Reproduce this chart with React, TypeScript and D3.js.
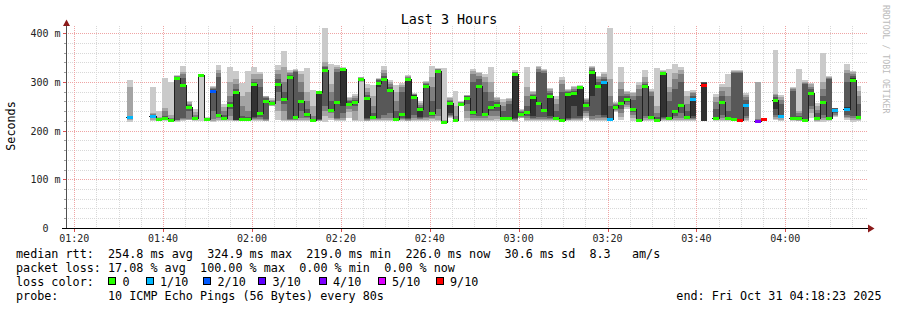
import React from "react";
import * as d3 from "d3";

// ---------- data ----------
const endTimeIso = "2025-10-31T04:18:23Z";
const spanSeconds = 10800;
const stepSeconds = 80;
const firstBarOffsetSeconds = 5;

// median rtt per 80 s step (ms); null = no data
const median: (number | null)[] = [
  null, null, null, null, null, null, null, null, null, null,
  228, null, null, null, 230, 223, 225, 221.5, 308, 293,
  247.5, 225, 314, 223, 281, 232, 225, 253, 280, 223.6,
  223, 295, 236.5, 261, 256, 295, 264, 309, 228, 260.5,
  234.5, 221.5, 278, 325, 242, 259, 325.5, 255, 259, 305,
  267, 227, 298, 305, 283, 223, 233, 306, 269, 244,
  290.6, 236, 323, 218, 256, 221, 255, 267, 237, 292,
  234, 249, 251.6, 225, 226, 316, 234, 237, 269, 257,
  242, 271, 225, 221.5, 275, 277.6, 289, 252, 321, 292,
  300, 223, 248, 257, 264.6, 244, 222, 290.6, 228, 222,
  317, 225, 240, 252, 228, 264, null, 292.6, null, 225,
  259, 225, 223, 222, 252, null, 220, 223.6, null, 262,
  230, null, 225, 225, 222, 276, 225, 259, 225, 243,
  null, 244, 303.6, 227, null,
];

// lost pings out of 10 per step
const lossCount: (number | null)[] = [
  null, null, null, null, null, null, null, null, null, null,
  1, null, null, null, 1, 0, 0, 0, 0, 0,
  0, 0, 0, 0, 2, 0, 0, 0, 0, 0,
  0, 0, 0, 0, 0, 0, 0, 0, 0, 0,
  0, 0, 0, 0, 0, 0, 0, 0, 0, 0,
  0, 0, 0, 0, 0, 0, 0, 0, 0, 0,
  0, 0, 0, 0, 0, 0, 0, 0, 0, 0,
  0, 0, 0, 0, 0, 0, 0, 0, 0, 0,
  0, 0, 0, 0, 0, 0, 0, 0, 0, 0,
  1, 1, 0, 0, 0, 0, 0, 0, 0, 0,
  0, 0, 0, 0, 0, 1, null, 9, null, 0,
  0, 0, 0, 9, 1, null, 4, 9, null, 0,
  1, null, 0, 0, 0, 0, 0, 0, 0, 1,
  null, 1, 0, 0, null,
];

// the 10 sorted ping times (ms) per step, for the smoke
const pings: (number[] | null)[] = [
  null, null, null, null, null, null, null, null, null, null,
  [218, 222, 224, 226, 228, 228, 229, 230, 290, 303],
  null, null, null,
  [219, 222, 226, 228, 229, 230, 231, 234, 236, 290],
  [219, 220, 221, 222, 223, 223, 224, 225, 228, 240],
  [220, 222, 223, 224, 225, 225, 230, 240, 247, 308],
  [219, 220, 221, 221, 221, 222, 223, 225, 232, 299],
  [218, 220, 221, 222, 306, 309, 310, 311, 312, 313],
  [220, 222, 224, 226, 290, 296, 308, 315, 321, 332],
  [221, 222, 224, 240, 246, 249, 252, 255, 258, 261],
  [219, 221, 222, 223, 224, 226, 228, 232, 238, 245],
  [220, 312, 313, 313, 314, 314, 314, 315, 315, 316],
  [219, 220, 221, 222, 223, 223, 224, 225, 226, 228],
  [218, 220, 224, 240, 278, 284, 286, 288, 290, 291],
  [219, 222, 225, 228, 231, 233, 310, 318, 324, 334],
  [219, 221, 222, 223, 224, 226, 232, 240, 248, 254],
  [219, 222, 230, 245, 252, 254, 258, 270, 300, 331],
  [219, 220, 221, 221, 222, 280, 285, 295, 305, 322],
  [219, 220, 221, 222, 223, 224, 230, 250, 270, 297],
  [219, 221, 222, 223, 223, 224, 228, 240, 280, 322],
  [219, 221, 224, 226, 228, 296, 300, 305, 315, 330],
  [219, 221, 224, 228, 235, 238, 290, 305, 315, 321],
  [219, 220, 222, 224, 258, 263, 266, 268, 270, 271],
  [250, 251, 252, 254, 255, 257, 258, 260, 263, 266],
  [222, 240, 260, 280, 293, 297, 305, 315, 325, 334],
  [220, 222, 240, 255, 262, 266, 280, 300, 330, 363],
  [219, 221, 222, 224, 306, 311, 314, 318, 321, 324],
  [219, 221, 222, 224, 227, 229, 320, 323, 325, 327],
  [219, 221, 225, 240, 258, 263, 280, 300, 315, 322],
  [220, 222, 225, 228, 233, 236, 245, 260, 280, 329],
  [219, 220, 221, 221, 221, 222, 224, 230, 250, 283],
  [219, 220, 221, 222, 223, 276, 278, 279, 280, 281],
  [218, 230, 240, 250, 322, 327, 330, 333, 340, 420],
  [221, 225, 235, 240, 241, 243, 260, 280, 295, 336],
  [219, 221, 223, 226, 257, 261, 320, 326, 330, 334],
  [220, 222, 225, 235, 250, 326, 327, 328, 329, 331],
  [225, 238, 245, 250, 254, 256, 260, 263, 266, 269],
  [219, 222, 240, 250, 258, 260, 263, 266, 270, 275],
  [219, 300, 302, 303, 304, 306, 307, 308, 309, 310],
  [219, 220, 222, 224, 226, 267, 272, 280, 288, 295],
  [219, 221, 223, 225, 226, 228, 235, 250, 270, 293],
  [219, 221, 223, 226, 290, 300, 303, 305, 306, 308],
  [219, 222, 226, 232, 303, 307, 312, 318, 325, 332],
  [219, 222, 225, 235, 281, 285, 290, 295, 300, 303],
  [220, 221, 222, 222, 223, 224, 240, 260, 280, 293],
  [219, 221, 223, 226, 232, 234, 280, 290, 294, 297],
  [219, 220, 222, 224, 226, 306, 308, 310, 312, 314],
  [219, 222, 225, 232, 266, 272, 273, 274, 275, 276],
  [219, 222, 224, 226, 228, 244, 248, 252, 256, 260],
  [219, 222, 225, 228, 288, 293, 295, 297, 299, 301],
  [220, 223, 226, 230, 235, 237, 260, 290, 310, 332],
  [219, 222, 230, 245, 322, 324, 325, 326, 327, 329],
  [217, 218, 218, 218, 218, 219, 219, 220, 221, 329],
  [225, 228, 230, 232, 235, 256, 260, 263, 266, 269],
  [218, 219, 220, 221, 221, 222, 224, 230, 250, 281],
  [250, 251, 252, 253, 254, 256, 257, 258, 259, 260],
  [219, 225, 240, 255, 265, 268, 270, 271, 272, 273],
  [219, 222, 226, 232, 236, 238, 300, 315, 322, 327],
  [219, 222, 225, 230, 290, 294, 305, 312, 317, 321],
  [219, 221, 225, 230, 233, 235, 280, 300, 310, 315],
  [220, 222, 230, 240, 248, 250, 260, 280, 300, 331],
  [220, 224, 230, 240, 250, 253, 258, 262, 266, 269],
  [219, 221, 222, 223, 224, 226, 240, 250, 258, 265],
  [220, 222, 224, 225, 225, 227, 255, 260, 264, 267],
  [218, 220, 222, 224, 226, 314, 317, 319, 321, 324],
  [225, 226, 228, 230, 232, 236, 238, 240, 242, 244],
  [219, 222, 226, 230, 236, 238, 250, 270, 290, 331],
  [219, 222, 224, 226, 230, 269, 272, 275, 278, 281],
  [219, 221, 224, 228, 255, 259, 320, 326, 330, 333],
  [219, 221, 224, 228, 240, 244, 318, 322, 324, 326],
  [219, 221, 223, 226, 229, 271, 276, 281, 285, 288],
  [219, 221, 222, 224, 224, 226, 240, 255, 265, 271],
  [219, 220, 221, 221, 221, 222, 280, 295, 303, 310],
  [219, 221, 222, 224, 226, 275, 279, 282, 284, 286],
  [219, 221, 223, 226, 250, 278, 282, 286, 289, 291],
  [219, 222, 224, 226, 230, 289, 290, 291, 292, 293],
  [225, 230, 235, 240, 250, 254, 258, 262, 265, 267],
  [219, 222, 224, 230, 270, 321, 325, 328, 330, 332],
  [219, 222, 226, 232, 290, 294, 300, 305, 309, 312],
  [219, 222, 225, 228, 232, 300, 305, 310, 315, 319],
  [219, 220, 222, 223, 223, 224, 250, 270, 305, 420],
  [238, 240, 242, 244, 246, 250, 252, 254, 256, 258],
  [222, 228, 235, 245, 255, 259, 270, 285, 300, 331],
  [245, 248, 252, 258, 263, 266, 270, 275, 278, 281],
  [220, 225, 232, 238, 243, 245, 262, 270, 276, 280],
  [219, 220, 221, 222, 222, 223, 270, 285, 293, 300],
  [220, 222, 225, 230, 289, 292, 296, 300, 310, 324],
  [219, 221, 223, 226, 227, 229, 270, 278, 282, 285],
  [219, 220, 221, 222, 222, 223, 228, 235, 250, 329],
  [219, 221, 223, 225, 228, 317, 319, 321, 322, 324],
  [219, 221, 223, 224, 224, 226, 260, 280, 290, 327],
  [219, 222, 226, 230, 238, 242, 285, 305, 318, 336],
  [219, 222, 226, 235, 250, 254, 300, 315, 325, 331],
  [219, 221, 223, 225, 227, 229, 240, 255, 270, 282],
  [219, 222, 224, 226, 230, 264, 270, 276, 280, 283],
  null,
  [219, 219, 220, 220, 220, 298, 299, 300, 300, 300],
  null,
  [219, 221, 222, 224, 224, 226, 245, 258, 268, 275],
  [219, 222, 225, 232, 257, 261, 270, 282, 290, 295],
  [219, 221, 223, 224, 224, 226, 240, 270, 290, 316],
  [219, 221, 222, 222, 223, 224, 318, 320, 322, 324],
  [219, 221, 222, 222, 222, 223, 318, 320, 322, 324],
  [219, 222, 225, 230, 250, 254, 262, 268, 272, 276],
  null,
  [219, 220, 220, 220, 220, 221, 222, 223, 299, 300],
  [223.6, 223.6, 223.6, 223.6, 223.6, 223.6, 223.6, 223.6, 223.6, 223.6],
  null,
  [221, 224, 228, 232, 245, 265, 268, 272, 275, 365],
  [220, 222, 225, 227, 229, 231, 255, 262, 268, 273],
  null,
  [219, 221, 222, 223, 224, 226, 282, 286, 288, 290],
  [219, 220, 222, 224, 224, 226, 230, 235, 240, 326],
  [219, 220, 221, 221, 222, 223, 295, 298, 300, 303],
  [225, 235, 245, 250, 274, 278, 285, 290, 295, 298],
  [218, 220, 222, 224, 224, 226, 235, 242, 250, 256],
  [218, 222, 226, 232, 257, 261, 270, 285, 300, 360],
  [219, 221, 222, 223, 224, 226, 305, 308, 310, 312],
  [228, 230, 232, 236, 241, 245, 246, 246, 247, 247],
  null,
  [222, 225, 228, 232, 240, 248, 300, 318, 325, 336],
  [218, 222, 226, 230, 300, 307, 312, 316, 319, 322],
  [220, 222, 224, 226, 226, 228, 255, 270, 282, 292],
  null,
];

const lossLevels = [0, 1, 2, 3, 4, 5, 9];
const lossLabels = ["0", "1/10", "2/10", "3/10", "4/10", "5/10", "9/10"];
const lossColors = ["#26ff00", "#00b8ff", "#0059ff", "#5e00ff", "#7e00ff", "#dd00ff", "#ff0000"];
const smokeColors = ["#cacaca", "#a4a4a4", "#7e7e7e", "#585858", "#323232"];

const yTickValues = [0, 100, 200, 300, 400];
const yTickLabels = ["0  ", "100 m", "200 m", "300 m", "400 m"];
const xTickLabels = ["01:20", "01:40", "02:00", "02:20", "02:40", "03:00", "03:20", "03:40", "04:00"];

const legendLines = [
  "median rtt:  254.8 ms avg  324.9 ms max  219.0 ms min  226.0 ms now  30.6 ms sd  8.3   am/s",
  "packet loss: 17.08 % avg  100.00 % max  0.00 % min  0.00 % now",
];
const lossRowLabel = "loss color:";
const probeLine = "probe:       10 ICMP Echo Pings (56 Bytes) every 80s";
const endLabel = "end: Fri Oct 31 04:18:23 2025";
const title = "Last 3 Hours";
const yAxisTitle = "Seconds";
const watermark = "RRDTOOL / TOBI OETIKER";

// ---------- layout ----------
const W = 897;
const H = 310;
const L = 67;
const R = 867;
const T = 28;
const B = 228;
const MONO = "'DejaVu Sans Mono', monospace";
const CH = 7.08;
const LX = 16;
const lossBoxX = [108, 145.5, 203, 258, 318.5, 377.5, 435.5];
const minorGrid = "#d8d8d8";
const majorGrid = "#efa4a4";

function MonoLine({ text, y }: { text: string; y: number }) {
  const tokens: { col: number; s: string }[] = [];
  const re = /\S+(?: \S+)*/g;
  let m: RegExpExecArray | null;
  while ((m = re.exec(text))) tokens.push({ col: m.index, s: m[0] });
  return (
    <>
      {tokens.map((t, i) => (
        <text key={i} x={LX + t.col * CH} y={y}>
          {t.s}
        </text>
      ))}
    </>
  );
}

function DotH({ x1, x2, yy, color }: { x1: number; x2: number; yy: number; color: string }) {
  return <rect x={x1} y={yy} width={x2 - x1} height={1} fill={`url(#dotH-${color.slice(1)})`} />;
}
function DotV({ xx, y1, y2, color }: { xx: number; y1: number; y2: number; color: string }) {
  return <rect x={xx} y={y1} width={1} height={y2 - y1} fill={`url(#dotV-${color.slice(1)})`} />;
}

export default function App() {
  const end = new Date(endTimeIso);
  const start = new Date(end.getTime() - spanSeconds * 1000);
  const x = d3.scaleUtc().domain([start, end]).range([L, R]);
  const y = d3.scaleLinear().domain([0, 200 / 0.4875]).range([B, T]);

  const barStart = (k: number) =>
    Math.round(x(new Date(start.getTime() + (firstBarOffsetSeconds + k * stepSeconds) * 1000)));
  const barEnd = (k: number) =>
    Math.round(x(new Date(start.getTime() + (firstBarOffsetSeconds + (k + 1) * stepSeconds) * 1000)));

  const minorTimes = d3.utcMinute.every(5)!.range(start, end).filter((d) => d.getUTCMinutes() % 20 !== 0);
  const majorTimes = d3.utcMinute.every(20)!.range(start, end);
  const minorVals = d3.range(20, 410, 20).filter((v) => v % 100 !== 0);
  const majorVals = [100, 200, 300, 400];

  type P = { x: number; y: number | null };
  const pts: P[] = [];
  median.forEach((m, k) => {
    if (m == null) return;
    const yy = Math.round(y(m)) + 0.5;
    const prevNull = k === 0 || median[k - 1] == null;
    if (prevNull) pts.push({ x: barStart(k) - 1, y: yy });
    pts.push({ x: barStart(k), y: yy });
    if (k === median.length - 1 || median[k + 1] == null) {
      pts.push({ x: barEnd(k), y: yy });
      pts.push({ x: barEnd(k), y: null });
    }
  });
  const line = d3
    .line<P>()
    .defined((d) => d.y != null)
    .x((d) => d.x)
    .y((d) => d.y as number)
    .curve(d3.curveStepAfter);

  const hy = (v: number) => Math.round(y(v));
  const vx = (t: Date) => Math.round(x(t));
  const gridColors = [minorGrid, majorGrid];

  return (
    <svg
      width={W}
      height={H}
      style={{ position: "absolute", left: 0, top: 0, background: "#fff" }}
      shapeRendering="crispEdges"
    >
      <defs>
        <clipPath id="plot">
          <rect x={L} y={T} width={R - L} height={B - T} />
        </clipPath>
        {gridColors.map((c) => (
          <React.Fragment key={c}>
            <pattern id={`dotH-${c.slice(1)}`} patternUnits="userSpaceOnUse" x={0} y={0} width={2} height={1}>
              <rect x={0} y={0} width={1} height={1} fill={c} />
            </pattern>
            <pattern id={`dotV-${c.slice(1)}`} patternUnits="userSpaceOnUse" x={0} y={0} width={1} height={2}>
              <rect x={0} y={0} width={1} height={1} fill={c} />
            </pattern>
          </React.Fragment>
        ))}
      </defs>
      <rect x={0} y={0} width={W} height={H} fill="#fff" />

      {/* grid */}
      {minorVals.map((v) => (
        <DotH key={"hm" + v} x1={L} x2={R} yy={hy(v)} color={minorGrid} />
      ))}
      {minorTimes.map((t, i) => (
        <DotV key={"vm" + i} xx={vx(t)} y1={25} y2={B} color={minorGrid} />
      ))}
      {majorVals.map((v) => (
        <DotH key={"hM" + v} x1={L} x2={R} yy={hy(v)} color={majorGrid} />
      ))}
      {majorTimes.map((t, i) => (
        <DotV key={"vM" + i} xx={vx(t)} y1={25} y2={B} color={majorGrid} />
      ))}
      {/* small ticks */}
      <g stroke="#a0a0a0">
        {minorVals.map((v) => (
          <line key={"tm" + v} x1={64} x2={66} y1={hy(v) + 0.5} y2={hy(v) + 0.5} />
        ))}
      </g>
      <g stroke="#de5050">
        {majorVals.map((v) => (
          <line key={"tM" + v} x1={63} x2={66} y1={hy(v) + 0.5} y2={hy(v) + 0.5} />
        ))}
        {majorTimes.map((t, i) => (
          <line key={"txM" + i} x1={vx(t) + 0.5} x2={vx(t) + 0.5} y1={229} y2={232} />
        ))}
      </g>

      {/* smoke */}
      <g clipPath="url(#plot)">
        {pings.map((p, k) => {
          if (!p) return null;
          const x0 = barStart(k);
          const x1 = barEnd(k);
          return smokeColors.map((c, i) => {
            const lo = p[i];
            const hi = p[9 - i];
            const y0 = Math.round(y(hi));
            const y1 = Math.round(y(lo));
            if (y1 - y0 <= 0) return null;
            return <rect key={k + "-" + i} x={x0} width={x1 - x0} y={y0} height={y1 - y0} fill={c} />;
          });
        })}
        <path d={line(pts) || ""} fill="none" stroke="#202020" strokeWidth={1} />
        {median.map((m, k) => {
          if (m == null) return null;
          const lc = lossCount[k] ?? 0;
          const idx = lossLevels.indexOf(lc);
          const yy = Math.round(y(m));
          return (
            <rect
              key={"m" + k}
              x={barStart(k)}
              width={barEnd(k) - barStart(k)}
              y={yy - 1}
              height={3}
              fill={lossColors[idx >= 0 ? idx : 0]}
            />
          );
        })}
      </g>

      {/* axes */}
      <line x1={66.5} x2={66.5} y1={229} y2={24} stroke="#505050" />
      <line x1={62} x2={869} y1={228.5} y2={228.5} stroke="#000" />
      <path d="M63,26 L70,26 L66.5,19.5 Z" fill="#8b1a1a" shapeRendering="auto" />
      <path d="M868,224.5 L868,232.5 L874.5,228.5 Z" fill="#8b1a1a" shapeRendering="auto" />

      {/* tick labels */}
      <g fontFamily={MONO} fontSize={10} fill="#222" style={{ whiteSpace: "pre" }}>
        {yTickValues.map((v, i) => (
          <text key={"yl" + v} x={60.5} y={Math.round(y(v)) + 4} textAnchor="end" xmlSpace="preserve">
            {yTickLabels[i]}
          </text>
        ))}
        {xTickLabels.map((lab) => {
          const t = new Date(`2025-10-31T${lab}:00Z`);
          return (
            <text key={lab} x={x(t)} y={241.5} textAnchor="middle">
              {lab}
            </text>
          );
        })}
      </g>

      <text x={449} y={24} textAnchor="middle" fontFamily={MONO} fontSize={13.4} fill="#000">
        {title}
      </text>
      <text
        transform="translate(15,126) rotate(-90)"
        textAnchor="middle"
        fontFamily={MONO}
        fontSize={11.76}
        fill="#000"
      >
        {yAxisTitle}
      </text>
      <text transform="translate(883,5) rotate(90)" fontFamily={MONO} fontSize={8.2} fill="#bbbbbb">
        {watermark}
      </text>

      {/* legend */}
      <g fontFamily={MONO} fontSize={11.76} fill="#000">
        <MonoLine text={legendLines[0]} y={257.5} />
        <MonoLine text={legendLines[1]} y={271.5} />
        <MonoLine text={lossRowLabel} y={285.5} />
        {lossLabels.map((lab, i) => (
          <g key={lab}>
            <rect x={lossBoxX[i] + 0.5} y={277.5} width={7} height={7} fill={lossColors[i]} stroke="#000" />
            <text x={lossBoxX[i] + 14.5} y={285.5}>
              {lab}
            </text>
          </g>
        ))}
        <MonoLine text={probeLine} y={299.5} />
        <text x={881.5} y={299.5} textAnchor="end">
          {endLabel}
        </text>
      </g>
    </svg>
  );
}
